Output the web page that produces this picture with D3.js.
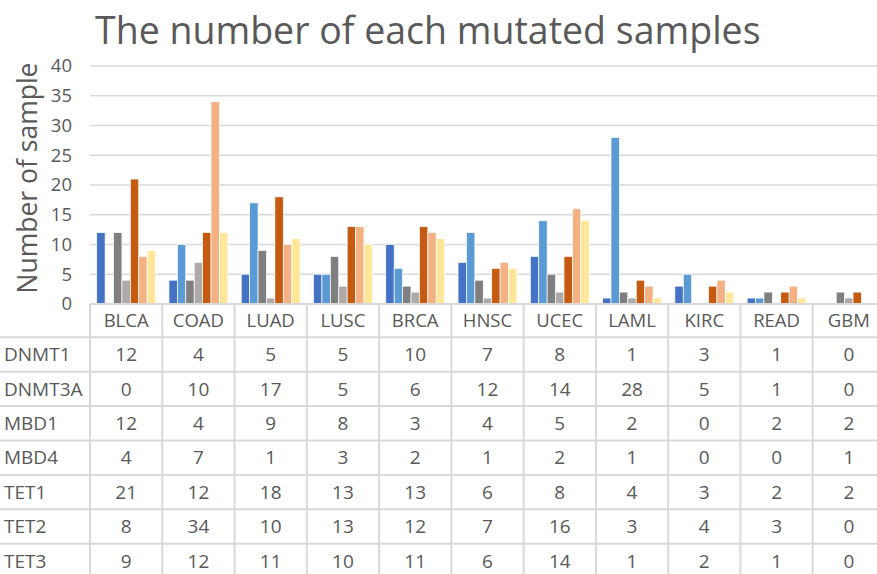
<!DOCTYPE html>
<html>
<head>
<meta charset="utf-8">
<script src="https://cdn.jsdelivr.net/npm/d3@7"></script>
<style>
  html, body { margin: 0; padding: 0; background: #fff; }
  svg { display: block; font-family: "Open Sans", "Noto Sans", sans-serif; }
</style>
</head>
<body>
<svg id="chart" width="877" height="574"></svg>
<script>
// ---- data ----
const categories = ["BLCA", "COAD", "LUAD", "LUSC", "BRCA", "HNSC", "UCEC", "LAML", "KIRC", "READ", "GBM"];
const series = ["DNMT1", "DNMT3A", "MBD1", "MBD4", "TET1", "TET2", "TET3"];
const dnmt1  = [12, 4, 5, 5, 10, 7, 8, 1, 3, 1, 0];
const dnmt3a = [0, 10, 17, 5, 6, 12, 14, 28, 5, 1, 0];
const mbd1   = [12, 4, 9, 8, 3, 4, 5, 2, 0, 2, 2];
const mbd4   = [4, 7, 1, 3, 2, 1, 2, 1, 0, 0, 1];
const tet1   = [21, 12, 18, 13, 13, 6, 8, 4, 3, 2, 2];
const tet2   = [8, 34, 10, 13, 12, 7, 16, 3, 4, 3, 0];
const tet3   = [9, 12, 11, 10, 11, 6, 14, 1, 2, 1, 0];
const yTicks = [0, 5, 10, 15, 20, 25, 30, 35, 40];

const values = [dnmt1, dnmt3a, mbd1, mbd4, tet1, tet2, tet3];
const colors = ["#4472C4", "#5B9BD5", "#7F7F7F", "#AEAAAA", "#C55A11", "#F4B183", "#FFE699"];

const textColor = "#595959";
const lineColor = "#D9D9D9";

const svg = d3.select("#chart");

// ---- scales ----
const colW = 72.27;
const x = d3.scaleBand()
  .domain(categories)
  .range([90, 90 + colW * categories.length]);

const xInner = d3.scaleBand()
  .domain(series)
  .range([6.7, colW - 6.7]);

const y = d3.scaleLinear()
  .domain([0, 40])
  .range([304, 66]);

const rowY = d3.scaleBand()
  .domain(series)
  .range([337.3, 337.3 + 34.4 * series.length]);

// ---- title ----
svg.append("text")
  .attr("x", 95)
  .attr("y", 44)
  .attr("fill", textColor)
  .attr("font-size", 37.5)
  .text("The number of each mutated samples");

// ---- y axis label ----
svg.append("text")
  .attr("transform", "translate(37,178) rotate(-90)")
  .attr("text-anchor", "middle")
  .attr("fill", textColor)
  .attr("font-size", 26.5)
  .text("Number of sample");

// ---- gridlines ----
svg.append("g")
  .selectAll("line")
  .data(yTicks.slice(1))
  .join("line")
  .attr("x1", 90)
  .attr("x2", 877)
  .attr("y1", d => y(d))
  .attr("y2", d => y(d))
  .attr("stroke", lineColor)
  .attr("stroke-width", 1.5);

// y tick labels
svg.append("g")
  .selectAll("text")
  .data(yTicks)
  .join("text")
  .attr("x", 72)
  .attr("y", d => y(d))
  .attr("dy", "0.35em")
  .attr("text-anchor", "end")
  .attr("fill", textColor)
  .attr("font-size", 18.5)
  .text(d => d);

// ---- bars ----
const barData = [];
series.forEach((s, si) => {
  categories.forEach((c, ci) => {
    barData.push({ series: s, cat: c, value: values[si][ci], color: colors[si] });
  });
});

svg.append("g")
  .selectAll("rect")
  .data(barData.filter(d => d.value > 0))
  .join("rect")
  .attr("x", d => x(d.cat) + xInner(d.series))
  .attr("width", xInner.bandwidth())
  .attr("y", d => y(d.value))
  .attr("height", d => y(0) - y(d.value))
  .attr("fill", d => d.color)
  .attr("stroke", "#fff")
  .attr("stroke-width", 0.7);

// ---- data table ----
const table = svg.append("g");

// axis / top line of table
table.append("line")
  .attr("x1", 90).attr("x2", 877)
  .attr("y1", y(0)).attr("y2", y(0))
  .attr("stroke", lineColor).attr("stroke-width", 2);

// horizontal row lines
const rowLines = series.map(s => rowY(s)).concat([rowY.range()[1]]);
table.selectAll("line.row")
  .data(rowLines)
  .join("line")
  .attr("class", "row")
  .attr("x1", 0).attr("x2", 877)
  .attr("y1", d => d).attr("y2", d => d)
  .attr("stroke", lineColor).attr("stroke-width", 2);

// vertical column lines
const colLines = categories.map(c => x(c)).concat([x.range()[1]]);
table.selectAll("line.col")
  .data(colLines)
  .join("line")
  .attr("class", "col")
  .attr("x1", d => d).attr("x2", d => d)
  .attr("y1", y(0)).attr("y2", 574)
  .attr("stroke", lineColor).attr("stroke-width", 2);

// header: categories
table.selectAll("text.cat")
  .data(categories)
  .join("text")
  .attr("class", "cat")
  .attr("x", d => x(d) + x.bandwidth() / 2)
  .attr("y", (y(0) + rowY.range()[0]) / 2)
  .attr("dy", "0.35em")
  .attr("text-anchor", "middle")
  .attr("fill", textColor)
  .attr("font-size", 18.5)
  .text(d => d);

// row labels
table.selectAll("text.series")
  .data(series)
  .join("text")
  .attr("class", "series")
  .attr("x", 4)
  .attr("y", d => rowY(d) + rowY.bandwidth() / 2)
  .attr("dy", "0.35em")
  .attr("fill", textColor)
  .attr("font-size", 19)
  .text(d => d);

// cell values
table.selectAll("text.cell")
  .data(barData)
  .join("text")
  .attr("class", "cell")
  .attr("x", d => x(d.cat) + x.bandwidth() / 2)
  .attr("y", d => rowY(d.series) + rowY.bandwidth() / 2)
  .attr("dy", "0.35em")
  .attr("text-anchor", "middle")
  .attr("fill", textColor)
  .attr("font-size", 19)
  .text(d => d.value);
</script>
</body>
</html>
